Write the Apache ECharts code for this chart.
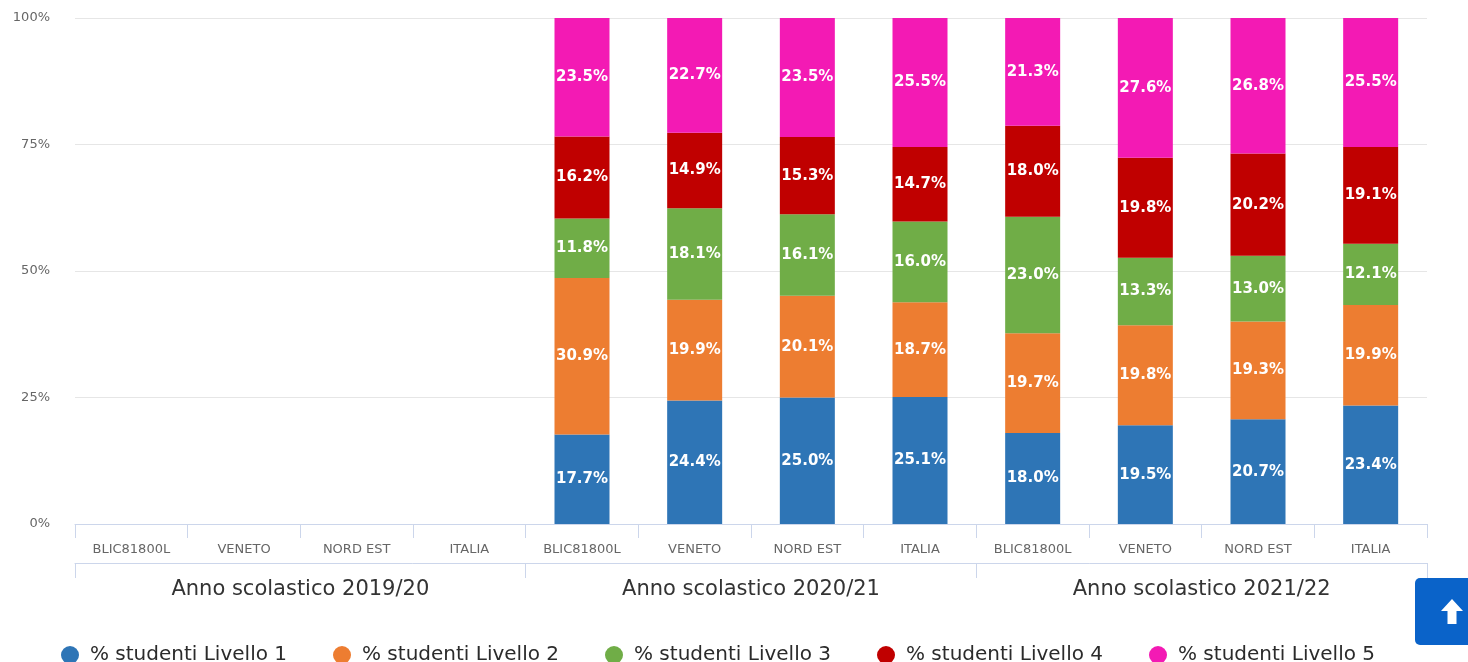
<!DOCTYPE html>
<html>
<head>
<meta charset="utf-8">
<script src="https://cdn.jsdelivr.net/npm/echarts@6/dist/echarts.min.js"></script>
<style>
html,body{margin:0;padding:0;background:#fff;}
#chart{width:1468px;height:662px;}
</style>
</head>
<body>
<div id="chart"></div>
<script>
var categories = ['BLIC81800L','VENETO','NORD EST','ITALIA','BLIC81800L','VENETO','NORD EST','ITALIA','BLIC81800L','VENETO','NORD EST','ITALIA'];
var groups = ['Anno scolastico 2019/20','Anno scolastico 2020/21','Anno scolastico 2021/22'];
var yTicks = [0, 25, 50, 75, 100];
var seriesNames = ['% studenti Livello 1','% studenti Livello 2','% studenti Livello 3','% studenti Livello 4','% studenti Livello 5'];
var level1 = [null,null,null,null,17.7,24.4,25.0,25.1,18.0,19.5,20.7,23.4];
var level2 = [null,null,null,null,30.9,19.9,20.1,18.7,19.7,19.8,19.3,19.9];
var level3 = [null,null,null,null,11.8,18.1,16.1,16.0,23.0,13.3,13.0,12.1];
var level4 = [null,null,null,null,16.2,14.9,15.3,14.7,18.0,19.8,20.2,19.1];
var level5 = [null,null,null,null,23.5,22.7,23.5,25.5,21.3,27.6,26.8,25.5];
var colors = ['#2e75b6','#ed7d31','#70ad47','#c00000','#f31ab4'];

var font = 'DejaVu Sans';
var levels = [level1, level2, level3, level4, level5];
var series = levels.map(function (d, i) {
  return {
    name: seriesNames[i],
    type: 'bar',
    stack: 'total',
    barWidth: 55,
    xAxisIndex: 0,
    data: d.map(function (v) { return v == null ? '-' : v; }),
    itemStyle: { color: colors[i] },
    label: {
      show: true,
      position: 'inside',
      color: '#fff',
      fontFamily: font,
      fontWeight: 'bold',
      fontSize: 15,
      formatter: function (p) { return Number(p.value).toFixed(1) + '%'; }
    }
  };
});

var chart = echarts.init(document.getElementById('chart'));
chart.setOption({
  animation: false,
  color: colors,
  textStyle: { fontFamily: font },
  grid: { left: 75, right: 41, top: 18, bottom: 138, containLabel: false },
  legend: {
    top: 640,
    left: 56,
    icon: 'circle',
    itemWidth: 18,
    itemHeight: 18,
    itemGap: 46,
    textStyle: { fontSize: 20, color: '#2b2b2b', fontFamily: font, padding: [0, 0, 0, 6] },
    data: seriesNames
  },
  xAxis: [
    {
      type: 'category',
      data: categories,
      position: 'bottom',
      axisLine: { lineStyle: { color: '#ccd6eb' } },
      axisTick: { show: true, interval: 0, length: 14, lineStyle: { color: '#ccd6eb' } },
      axisLabel: { interval: 0, margin: 19, fontSize: 13, color: '#666', fontFamily: font }
    },
    {
      type: 'category',
      data: groups,
      position: 'bottom',
      offset: 39,
      axisLine: { lineStyle: { color: '#ccd6eb' } },
      axisTick: { show: true, interval: 0, length: 15, lineStyle: { color: '#ccd6eb' } },
      axisLabel: { interval: 0, margin: 16, fontSize: 21, color: '#333', fontFamily: font }
    }
  ],
  yAxis: {
    type: 'value',
    min: yTicks[0],
    max: yTicks[yTicks.length - 1],
    interval: 25,
    axisLine: { show: false },
    axisTick: { show: false },
    splitLine: { lineStyle: { color: '#e6e6e6' } },
    axisLabel: { formatter: '{value}%', fontSize: 13, color: '#666', margin: 25, fontFamily: font }
  },
  graphic: [
    {
      type: 'group',
      children: [
        { type: 'rect', shape: { x: 1415, y: 578, width: 60, height: 67, r: 5 }, style: { fill: '#0a63c9' } },
        { type: 'polygon', shape: { points: [[1452,599],[1463,611],[1456.5,611],[1456.5,624],[1447.5,624],[1447.5,611],[1441,611]] }, style: { fill: '#fff' } }
      ]
    }
  ],
  series: series
});
</script>
</body>
</html>
